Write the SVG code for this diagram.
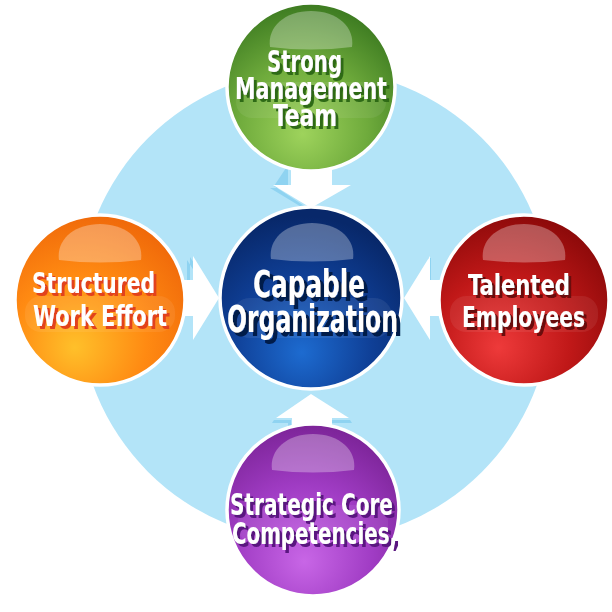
<svg xmlns="http://www.w3.org/2000/svg" width="612" height="612" viewBox="0 0 612 612">
<style>
.ring{stroke:#ffffff;stroke-width:3.5}
.hl{fill:#ffffff;fill-opacity:0.3}
.band{fill:#ffffff;fill-opacity:0.07}
.t{font-family:"DejaVu Sans Condensed","DejaVu Sans","Liberation Sans",sans-serif;font-weight:bold;font-stretch:condensed;fill:#ffffff}
.arrow{fill:#ffffff}
.ash{fill:#8fd3f1}
</style>
<defs>
<radialGradient id="gG" cx="0.45" cy="0.72" r="0.7" fx="0.45" fy="0.78">
<stop offset="0" stop-color="#9ed35c"/><stop offset="0.55" stop-color="#6fab3c"/><stop offset="1" stop-color="#3f7d22"/>
</radialGradient>
<radialGradient id="gB" cx="0.45" cy="0.75" r="0.7" fx="0.45" fy="0.8">
<stop offset="0" stop-color="#1d6bd0"/><stop offset="0.55" stop-color="#0f3f96"/><stop offset="1" stop-color="#08286a"/>
</radialGradient>
<radialGradient id="gO" cx="0.4" cy="0.72" r="0.72" fx="0.35" fy="0.78">
<stop offset="0" stop-color="#ffc02a"/><stop offset="0.55" stop-color="#ff8a12"/><stop offset="1" stop-color="#f06a0a"/>
</radialGradient>
<radialGradient id="gR" cx="0.4" cy="0.72" r="0.72" fx="0.35" fy="0.78">
<stop offset="0" stop-color="#ee3a3a"/><stop offset="0.55" stop-color="#c01818"/><stop offset="1" stop-color="#8e0a0a"/>
</radialGradient>
<radialGradient id="gP" cx="0.45" cy="0.72" r="0.72" fx="0.45" fy="0.8">
<stop offset="0" stop-color="#c866e6"/><stop offset="0.55" stop-color="#a03cc4"/><stop offset="1" stop-color="#7c2498"/>
</radialGradient>
<path id="hlp" d="M-41,-40 C-44,-60 -26,-76 0,-76 C26,-76 44,-60 41,-40 Q0,-35 -41,-40 Z"/>
<filter id="sG" x="-10%" y="-20%" width="130%" height="150%"><feFlood flood-color="#2f6b16"/><feComposite in2="SourceAlpha" operator="in"/><feOffset dx="3" dy="3" result="s"/><feMerge><feMergeNode in="s"/><feMergeNode in="SourceGraphic"/></feMerge></filter>
<filter id="sB" x="-10%" y="-20%" width="130%" height="150%"><feFlood flood-color="#061a4a"/><feComposite in2="SourceAlpha" operator="in"/><feOffset dx="4" dy="4" result="s"/><feMerge><feMergeNode in="s"/><feMergeNode in="SourceGraphic"/></feMerge></filter>
<filter id="sO" x="-10%" y="-20%" width="130%" height="150%"><feFlood flood-color="#e2431c"/><feComposite in2="SourceAlpha" operator="in"/><feOffset dx="3" dy="3" result="s"/><feMerge><feMergeNode in="s"/><feMergeNode in="SourceGraphic"/></feMerge></filter>
<filter id="sR" x="-10%" y="-20%" width="130%" height="150%"><feFlood flood-color="#6b0808"/><feComposite in2="SourceAlpha" operator="in"/><feOffset dx="3" dy="3" result="s"/><feMerge><feMergeNode in="s"/><feMergeNode in="SourceGraphic"/></feMerge></filter>
<filter id="sP" x="-10%" y="-20%" width="130%" height="150%"><feFlood flood-color="#5a1680"/><feComposite in2="SourceAlpha" operator="in"/><feOffset dx="3" dy="3" result="s"/><feMerge><feMergeNode in="s"/><feMergeNode in="SourceGraphic"/></feMerge></filter>
</defs>

<rect width="612" height="612" fill="#ffffff"/>
<circle cx="315" cy="305" r="236" fill="#b3e4f8"/>

<g id="connectors">
<polygon class="ash" points="288,165 288,188 270,188 308,211 312,211 274,186"/>
<polygon class="arrow" points="291,165 332,165 332,185 351,185 311,208 273,185 291,185"/>
<polygon class="ash" points="274,420 291,420 291,432 288,432 288,423 272,423"/>
<polygon class="ash" points="330,420 350,420 352,423 332,423"/>
<polygon class="arrow" points="292,435 332,435 332,418 349,418 311,394 276,418 292,418"/>
<polygon class="ash" points="186,282 190,282 190,257 215,296 212,298 187,260 187,285"/>
<polygon class="arrow" points="180,280 193,280 193,256 219,298 193,340 193,316 180,316"/>
<polygon class="ash" points="428,258 431,258 431,282 440,282 440,285 428,285"/>
<polygon class="arrow" points="442,280 430,280 430,256 404,298 430,340 430,316 442,316"/>
</g>

<g id="node-top">
<circle class="ring" cx="311" cy="87" r="84" fill="url(#gG)"/>
<use href="#hlp" class="hl" x="311" y="87"/>
<rect class="band" x="236" y="82" width="150" height="36" rx="16"/>
<g class="t" filter="url(#sG)">
<text x="267" y="72" font-size="30" textLength="75" lengthAdjust="spacingAndGlyphs">Strong</text>
<text x="235" y="99" font-size="30" textLength="152" lengthAdjust="spacingAndGlyphs">Management</text>
<text x="273" y="126" font-size="30" textLength="64" lengthAdjust="spacingAndGlyphs">Team</text>
</g>
</g>

<g id="node-center">
<circle class="ring" cx="311" cy="298" r="91" fill="url(#gB)"/>
<use href="#hlp" class="hl" x="312" y="299"/>
<rect class="band" x="232" y="298" width="160" height="40" rx="18"/>
<g class="t" filter="url(#sB)">
<text x="253" y="297" font-size="37" textLength="112" lengthAdjust="spacingAndGlyphs">Capable</text>
<text x="227" y="332" font-size="37" textLength="171" lengthAdjust="spacingAndGlyphs">Organization</text>
</g>
</g>

<g id="node-left">
<circle class="ring" cx="100" cy="300" r="85" fill="url(#gO)"/>
<use href="#hlp" class="hl" x="100" y="300"/>
<rect class="band" x="25" y="296" width="150" height="36" rx="16"/>
<g class="t" filter="url(#sO)">
<text x="32" y="293" font-size="29" textLength="123" lengthAdjust="spacingAndGlyphs">Structured</text>
<text x="33" y="326" font-size="29" textLength="134" lengthAdjust="spacingAndGlyphs">Work Effort</text>
</g>
</g>

<g id="node-right">
<circle class="ring" cx="524" cy="300" r="85" fill="url(#gR)"/>
<use href="#hlp" class="hl" x="524" y="300"/>
<rect class="band" x="450" y="296" width="148" height="36" rx="16"/>
<g class="t" filter="url(#sR)">
<text x="468" y="295" font-size="29" textLength="102" lengthAdjust="spacingAndGlyphs">Talented</text>
<text x="462" y="327" font-size="29" textLength="123" lengthAdjust="spacingAndGlyphs">Employees</text>
</g>
</g>

<g id="node-bottom">
<circle class="ring" cx="313" cy="510" r="86" fill="url(#gP)"/>
<use href="#hlp" class="hl" x="313" y="510"/>
<rect class="band" x="238" y="505" width="150" height="38" rx="16"/>
<g class="t" filter="url(#sP)">
<text x="230" y="515" font-size="30" textLength="163" lengthAdjust="spacingAndGlyphs">Strategic Core</text>
<text x="232" y="544" font-size="30" textLength="165" lengthAdjust="spacingAndGlyphs">Competencies,</text>
</g>
</g>
</svg>
